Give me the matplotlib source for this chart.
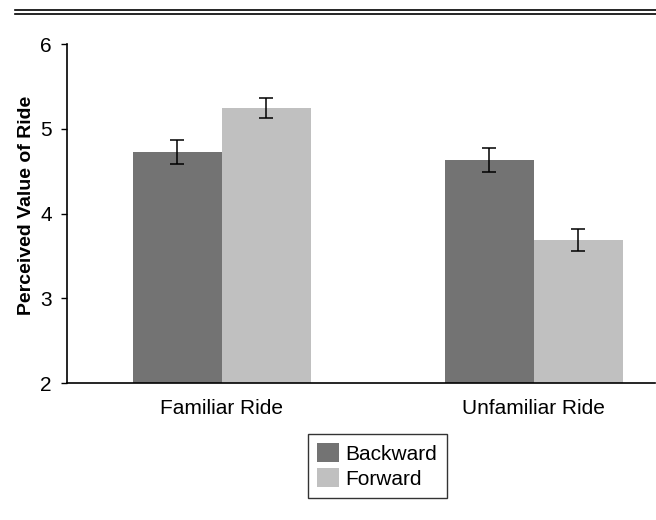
import numpy as np
import matplotlib.pyplot as plt
from matplotlib.lines import Line2D

plt.rcParams['font.family'] = ['Liberation Sans', 'DejaVu Sans']

groups = ["Familiar Ride", "Unfamiliar Ride"]
series = ["Backward", "Forward"]
backward = [4.73, 4.63]
forward = [5.25, 3.69]
backward_err = [0.14, 0.14]
forward_err = [0.12, 0.13]
colors = ["#737373", "#c0c0c0"]

fig = plt.figure(figsize=(6.56, 5.2), dpi=100)
ax = fig.add_axes([0.102, 0.263, 0.896, 0.652])

x = np.arange(len(groups))
w = 0.285
ax.bar(x - w / 2, backward, w, color=colors[0], label=series[0])
ax.bar(x + w / 2, forward, w, color=colors[1], label=series[1])
ax.errorbar(x - w / 2, backward, yerr=backward_err, fmt="none",
            ecolor="black", elinewidth=1.1, capsize=4.7, capthick=1.1)
ax.errorbar(x + w / 2, forward, yerr=forward_err, fmt="none",
            ecolor="black", elinewidth=1.1, capsize=4.7, capthick=1.1)

ax.set_ylim(2, 6)
ax.set_xlim(-0.497, 1.388)
ax.set_yticks([2, 3, 4, 5, 6])
ax.set_xticks(x)
ax.set_xticklabels(groups, fontsize=15)
ax.tick_params(axis="x", length=0, pad=11)
ax.tick_params(axis="y", labelsize=15, length=4, width=1, pad=7)
ax.set_ylabel("Perceived Value of Ride", fontsize=14, fontweight="bold")
ax.yaxis.set_label_coords(-0.055, 0.525)

for s in ["top", "right"]:
    ax.spines[s].set_visible(False)
for s in ["left", "bottom"]:
    ax.spines[s].set_linewidth(1.2)

leg = fig.legend(loc="center", bbox_to_anchor=(0.575, 0.104), fontsize=15,
                 frameon=True, fancybox=False, edgecolor="black",
                 handlelength=1.05, handleheight=1.05, handletextpad=0.33,
                 labelspacing=0.2, borderpad=0.45)
leg.get_frame().set_linewidth(1)

# double rule across the top
for yy in (1 - 10 / 520, 1 - 14 / 520):
    fig.add_artist(Line2D([0.023, 1.0], [yy, yy], transform=fig.transFigure,
                          color="black", linewidth=1.2))

fig.savefig("out.png", dpi=100)
